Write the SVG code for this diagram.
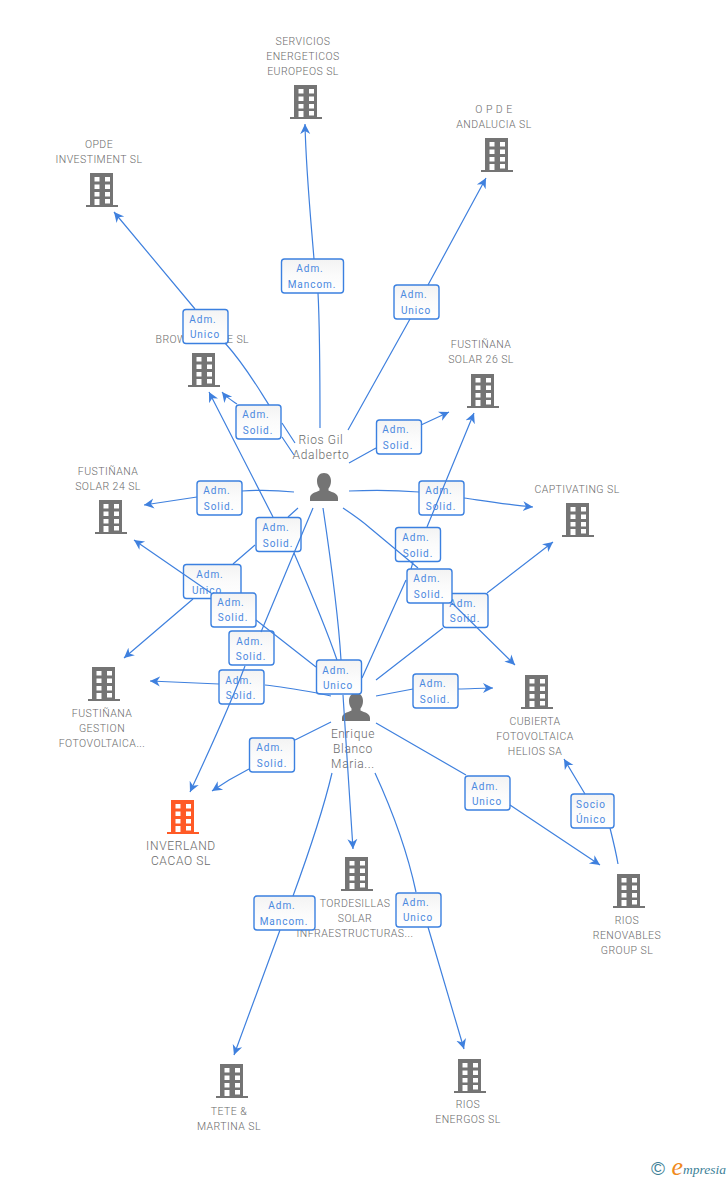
<svg xmlns="http://www.w3.org/2000/svg" width="728" height="1180" viewBox="0 0 728 1180">
<style>
text{font-family:Roboto,"Liberation Sans",sans-serif}
.n{font-size:10.5px;font-weight:300;fill:#6a6a6a;text-anchor:middle;letter-spacing:.45px}
.p{font-size:12px;font-weight:300;fill:#6a6a6a;text-anchor:middle;letter-spacing:.65px}
.l{font-size:10px;fill:#4a88e0;text-anchor:middle;letter-spacing:.95px}
.b{fill:url(#bg);stroke:#3b80e0;stroke-width:1.4}
.c{fill:none;stroke:#3f80de;stroke-width:1.2;marker-end:url(#ah)}
</style>
<defs>
<linearGradient id="bg" x1="0" y1="0" x2="0" y2="1"><stop offset="0" stop-color="#f3f3f3"/><stop offset=".5" stop-color="#fbfbfb"/><stop offset="1" stop-color="#ffffff"/></linearGradient>
<marker id="ah" markerUnits="userSpaceOnUse" markerWidth="14" markerHeight="14" refX="10" refY="6" orient="auto"><path d="M0,1 L10,6 L0,11 L3,6 Z" fill="#3f80de"/></marker>
<path id="bld" fill-rule="evenodd" d="M-12,-34 H11 V-2 H16 V0 H-16 V-2 H-12 Z M-7.500,-30 V-25.500 H-2.500 V-30 Z M3,-30 V-25.500 H8 V-30 Z M-7.500,-22.500 V-18 H-2.500 V-22.500 Z M3,-22.500 V-18 H8 V-22.500 Z M-7.500,-15 V-10.500 H-2.500 V-15 Z M3,-15 V-10.500 H8 V-15 Z M-7.500,-8 V-2 H-2.500 V-8 Z M3,-8 V-3.500 H8 V-8 Z"/>
<path id="per" d="M0,-28 C4.500,-28 7,-24.500 7,-20 C7,-17 6,-14.500 4.500,-12.500 L4.500,-10.500 C9,-8.500 14,-7.500 14,-3 L14,0 H-14 L-14,-3 C-14,-7.500 -9,-8.500 -4.500,-10.500 L-4.500,-12.500 C-6,-14.500 -7,-17 -7,-20 C-7,-24.500 -4.500,-28 0,-28 Z" fill="#747474"/>
</defs>
<rect width="728" height="1180" fill="#fff"/>

<g id="node-servicios"><use href="#bld" x="306" y="119" fill="#747474"/><text class="n" x="303" y="45">SERVICIOS</text><text class="n" x="303" y="60">ENERGETICOS</text><text class="n" x="303" y="75">EUROPEOS SL</text></g>
<g id="node-opde-andalucia"><use href="#bld" x="497" y="172" fill="#747474"/><text class="n" x="494" y="113">O P D E</text><text class="n" x="494" y="128">ANDALUCIA SL</text></g>
<g id="node-opde-investiment"><use href="#bld" x="102" y="207" fill="#747474"/><text class="n" x="99" y="148">OPDE</text><text class="n" x="99" y="163">INVESTIMENT SL</text></g>
<g id="node-brov"><use href="#bld" x="204" y="387" fill="#747474"/><text class="n" style="text-anchor:start" x="155.500" y="343">BROW</text><text class="n" style="text-anchor:start" x="227" y="343">E SL</text></g>
<g id="node-fustinana-26"><use href="#bld" x="483" y="408" fill="#747474"/><text class="n" x="481" y="348">FUSTIÑANA</text><text class="n" x="481" y="363">SOLAR 26 SL</text></g>
<g id="node-fustinana-24"><use href="#bld" x="111" y="534" fill="#747474"/><text class="n" x="108" y="475">FUSTIÑANA</text><text class="n" x="108" y="490">SOLAR 24 SL</text></g>
<g id="node-captivating"><use href="#bld" x="578" y="537" fill="#747474"/><text class="n" x="577" y="493">CAPTIVATING SL</text></g>
<g id="node-fustinana-gestion"><use href="#bld" x="104" y="701" fill="#747474"/><text class="n" x="102" y="717">FUSTIÑANA</text><text class="n" x="102" y="732">GESTION</text><text class="n" x="102" y="747">FOTOVOLTAICA...</text></g>
<g id="node-cubierta"><use href="#bld" x="537" y="709" fill="#747474"/><text class="n" x="535" y="725">CUBIERTA</text><text class="n" x="535" y="740">FOTOVOLTAICA</text><text class="n" x="535" y="755">HELIOS SA</text></g>
<g id="node-inverland"><use href="#bld" x="183" y="834" fill="#ff5a26"/><text class="p" x="181" y="850">INVERLAND</text><text class="p" x="181" y="865">CACAO SL</text></g>
<g id="node-tordesillas"><use href="#bld" x="357" y="891" fill="#747474"/><text class="n" x="355" y="907">TORDESILLAS</text><text class="n" x="355" y="922">SOLAR</text><text class="n" x="355" y="937" letter-spacing=".7">INFRAESTRUCTURAS...</text></g>
<g id="node-rios-renovables"><use href="#bld" x="629" y="908" fill="#747474"/><text class="n" x="627" y="924">RIOS</text><text class="n" x="627" y="939">RENOVABLES</text><text class="n" x="627" y="954">GROUP SL</text></g>
<g id="node-tete"><use href="#bld" x="232" y="1098" fill="#747474"/><text class="n" x="229" y="1115">TETE &amp;</text><text class="n" x="229" y="1130">MARTINA SL</text></g>
<g id="node-rios-energos"><use href="#bld" x="470" y="1093" fill="#747474"/><text class="n" x="468" y="1108">RIOS</text><text class="n" x="468" y="1123">ENERGOS SL</text></g>
<g id="node-rios-gil"><use href="#per" x="324" y="501"/><text class="p" x="321" y="444">Rios Gil</text><text class="p" x="321" y="459">Adalberto</text></g>
<g id="node-enrique"><use href="#per" x="356" y="721"/><text class="p" x="353" y="738">Enrique</text><text class="p" x="353" y="753">Blanco</text><text class="p" x="353" y="768">Maria...</text></g>

<g id="labels">
<g><rect class="b" x="281.500" y="259" width="62" height="34" rx="3"/><text class="l" x="310" y="272">Adm.</text><text class="l" x="312" y="288">Mancom.</text></g>
<g><rect class="b" x="394" y="285" width="45" height="34" rx="3"/><text class="l" x="414" y="298">Adm.</text><text class="l" x="416" y="314">Unico</text></g>
<g><rect class="b" x="183" y="309.500" width="45" height="34" rx="3"/><text class="l" x="203" y="323">Adm.</text><text class="l" x="205" y="338">Unico</text></g>
<g><rect class="b" x="236" y="405" width="45" height="34" rx="3"/><text class="l" x="256" y="418">Adm.</text><text class="l" x="258" y="434">Solid.</text></g>
<g><rect class="b" x="376.500" y="420" width="45" height="34" rx="3"/><text class="l" x="396" y="433">Adm.</text><text class="l" x="398" y="449">Solid.</text></g>
<g><rect class="b" x="197" y="481" width="45" height="34" rx="3"/><text class="l" x="217" y="494">Adm.</text><text class="l" x="219" y="510">Solid.</text></g>
<g><rect class="b" x="419" y="481" width="45" height="34" rx="3"/><text class="l" x="439" y="494">Adm.</text><text class="l" x="441" y="510">Solid.</text></g>
<g><rect class="b" x="256" y="517.500" width="45" height="34" rx="3"/><text class="l" x="276" y="531">Adm.</text><text class="l" x="278" y="547">Solid.</text></g>
<g><rect class="b" x="395.500" y="527.500" width="45" height="34" rx="3"/><text class="l" x="416" y="541">Adm.</text><text class="l" x="418" y="557">Solid.</text></g>
<g><rect class="b" x="183.500" y="564.500" width="57.500" height="34" rx="3"/><text class="l" x="210" y="578">Adm.</text><text class="l" x="207" y="594">Unico</text></g>
<g><rect class="b" x="211" y="593" width="45" height="34" rx="3"/><text class="l" x="231" y="606">Adm.</text><text class="l" x="233" y="621">Solid.</text></g>
<g><rect class="b" x="443" y="593.500" width="45" height="34" rx="3"/><text class="l" x="463" y="607">Adm.</text><text class="l" x="465" y="622">Solid.</text></g>
<g><rect class="b" x="407" y="569" width="45" height="34" rx="3"/><text class="l" x="427" y="582">Adm.</text><text class="l" x="429" y="598">Solid.</text></g>
<g><rect class="b" x="229" y="631" width="45" height="34" rx="3"/><text class="l" x="250" y="645">Adm.</text><text class="l" x="251" y="660">Solid.</text></g>
<g><rect class="b" x="219" y="670" width="45" height="34" rx="3"/><text class="l" x="239" y="684">Adm.</text><text class="l" x="241" y="699">Solid.</text></g>
<g><rect class="b" x="316.500" y="660" width="45" height="34" rx="3"/><text class="l" x="336" y="674">Adm.</text><text class="l" x="338" y="689">Unico</text></g>
<g><rect class="b" x="413" y="674" width="45" height="34" rx="3"/><text class="l" x="433" y="687">Adm.</text><text class="l" x="435" y="703">Solid.</text></g>
<g><rect class="b" x="249.500" y="738" width="45" height="34" rx="3"/><text class="l" x="270" y="751">Adm.</text><text class="l" x="272" y="767">Solid.</text></g>
<g><rect class="b" x="465" y="776" width="45" height="34" rx="3"/><text class="l" x="485" y="790">Adm.</text><text class="l" x="487" y="805">Unico</text></g>
<g><rect class="b" x="571" y="794" width="43" height="34" rx="3"/><text class="l" x="591" y="808">Socio</text><text class="l" x="591" y="823">Único</text></g>
<g><rect class="b" x="254" y="896" width="61" height="34" rx="3"/><text class="l" x="282" y="909">Adm.</text><text class="l" x="284" y="925">Mancom.</text></g>
<g><rect class="b" x="396" y="893" width="45" height="34" rx="3"/><text class="l" x="416" y="906">Adm.</text><text class="l" x="418" y="921">Unico</text></g>
</g>

<g id="connectors">
<path class="c" d="M320,428 C320,380 320,330 318,293 M314,259 C310,210 306,170 305,124"/>
<path class="c" d="M348,430 L410,319 M428,285 L486,178"/>
<path class="c" d="M295,443 L282,423 M269,405 C258,388 245,365 225,343 M195,309 L114,212"/>
<path class="c" d="M294,455 L282,437 M237,404 C231,400 226,397 222,392"/>
<path class="c" d="M349,463 L376,448 M421,425 L449,412"/>
<path class="c" d="M294,492 C275,490 258,490 242,491 M197,497 L144,505"/>
<path class="c" d="M349,491 C370,490 395,490 419,492 M464,498 C485,501 510,505 533,507"/>
<path class="c" d="M343,508 C352,514 361,520 370,528 L418,568 M452,603 L515,665"/>
<path class="c" d="M298,508 L288,517 M255,545 L233,564 M193,599 L124,658"/>
<path class="c" d="M313,508 L294,553 L261,632 M245,666 C230,705 212,745 190,792"/>
<path class="c" d="M337,660 C325,625 310,590 294,553 M273,517 L209,392"/>
<path class="c" d="M323,508 C330,555 338,610 341,660 M343,695 C346,745 350,800 353,849"/>
<path class="c" d="M316,667 L256,620 M211,593 L134,540"/>
<path class="c" d="M331,696 L317,693 C300,690 283,687 265,685 M219,684 L150,681"/>
<path class="c" d="M331,722 L295,740 M249,769 L229,780 L212,791"/>
<path class="c" d="M376,680 L443,628 M487,593 L553,542"/>
<path class="c" d="M376,696 L413,689 M458,689 C470,689 480,688 493,688"/>
<path class="c" d="M362,678 L406,580 M411,569 L413,562 M427,527 L474,413"/>
<path class="c" d="M376,723 L466,775 M510,805 L600,865"/>
<path class="c" d="M332,773 C322,815 308,855 293,896 M280,930 L234,1055"/>
<path class="c" d="M375,773 C392,810 407,850 416,892 M428,927 L464,1049"/>
<path class="c" d="M618,864 C616,852 613,840 610,828 M585,794 L564,759"/>
</g>

<g id="footer">
<text x="658" y="1175" font-size="19" fill="#3d7f97" text-anchor="middle" style="font-family:'Liberation Sans',sans-serif">©</text>
<text x="671.500" y="1175" font-size="26" font-style="italic" fill="#f08a1d" style="font-family:'Liberation Serif',serif">e</text>
<text x="683" y="1174" font-size="13.500" font-style="italic" fill="#3d7f97" style="font-family:'Liberation Serif',serif">mpresia</text>
</g>
</svg>
